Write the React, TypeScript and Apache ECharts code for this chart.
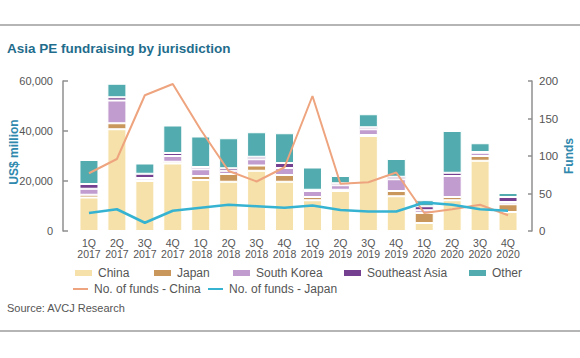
import React, { useEffect, useRef } from 'react';
import * as echarts from 'echarts';

const quarters = ['1Q', '2Q', '3Q', '4Q', '1Q', '2Q', '3Q', '4Q', '1Q', '2Q', '3Q', '4Q', '1Q', '2Q', '3Q', '4Q'];
const years = ['2017', '2017', '2017', '2017', '2018', '2018', '2018', '2018', '2019', '2019', '2019', '2019', '2020', '2020', '2020', '2020'];

const china = [13400, 40700, 20000, 27000, 20400, 19700, 24100, 19700, 12300, 16000, 38000, 13900, 3200, 12300, 28100, 7600];
const japan = [1100, 2400, 300, 700, 1600, 3100, 2100, 2700, 1300, 500, 400, 2100, 4000, 1300, 1900, 3100];
const southKorea = [2400, 9100, 900, 2300, 2700, 1300, 2500, 2800, 2400, 1800, 2300, 4700, 1100, 8400, 1300, 900];
const southeastAsia = [1900, 1300, 1700, 1200, 900, 1000, 1000, 2000, 500, 800, 800, 1000, 1600, 1300, 300, 2000];
const other = [9600, 5400, 4100, 11000, 12200, 12000, 9800, 11900, 8900, 2900, 5200, 7100, 2400, 16700, 3500, 1600];

const fundsChina = [77, 96, 181, 196, 135, 80, 66, 85, 180, 63, 65, 78, 24, 29, 35, 21];
const fundsJapan = [24, 29, 11, 27, 31, 35, 33, 31, 34, 28, 26, 26, 38, 35, 29, 27];

const FONT = '"Liberation Sans", Arial, sans-serif';
const AXIS = '#8f8f8f';
const TXT = '#555555';

const barDefs = [
  { name: 'China', data: china, color: '#f5e1a9' },
  { name: 'Japan', data: japan, color: '#c9975b' },
  { name: 'South Korea', data: southKorea, color: '#c19ccf' },
  { name: 'Southeast Asia', data: southeastAsia, color: '#74408f' },
  { name: 'Other', data: other, color: '#52abae' },
];
const lineDefs = [
  { name: 'No. of funds - China', data: fundsChina, color: '#eea47e', width: 2 },
  { name: 'No. of funds - Japan', data: fundsJapan, color: '#37b3d2', width: 2.5 },
];

const legendPos: Record<string, [number, number]> = {
  'China': [73, 267],
  'Japan': [152, 267],
  'South Korea': [231, 267],
  'Southeast Asia': [342, 267],
  'Other': [467, 267],
  'No. of funds - China': [73, 283],
  'No. of funds - Japan': [208, 283],
};

export default function App() {
  const ref = useRef<HTMLDivElement>(null);
  useEffect(() => {
    const chart = echarts.init(ref.current!, null, { renderer: 'svg' });
    const legends: any[] = [];
    barDefs.forEach((b) => {
      legends.push({
        data: [{ name: b.name, icon: 'rect' }],
        left: legendPos[b.name][0], top: legendPos[b.name][1],
        itemWidth: 19, itemHeight: 8, itemGap: 0, padding: 0,
        selectedMode: false,
        textStyle: { fontFamily: FONT, fontSize: 12, color: TXT },
      });
    });
    lineDefs.forEach((l) => {
      legends.push({
        data: [{ name: l.name, icon: 'rect' }],
        left: legendPos[l.name][0], top: legendPos[l.name][1],
        itemWidth: 15, itemHeight: 2, itemGap: 0, padding: 0,
        selectedMode: false,
        textStyle: { fontFamily: FONT, fontSize: 12, color: TXT, padding: [0, 0, 0, 1] },
      });
    });
    chart.setOption({
      animation: false,
      backgroundColor: '#ffffff',
      grid: { left: 75, right: 58, top: 81, bottom: 127 },
      legend: legends,
      xAxis: {
        type: 'category',
        data: quarters.map((q, i) => q + '\n' + years[i]),
        axisLine: { show: false },
        axisTick: { show: false },
        axisLabel: { interval: 0, margin: 6, lineHeight: 11, fontSize: 10.5, fontFamily: FONT, color: TXT },
      },
      yAxis: [
        {
          type: 'value', min: 0, max: 60000, interval: 20000, position: 'left', offset: 12,
          axisLine: { show: true, lineStyle: { color: AXIS, width: 1.5 } },
          axisTick: { show: true, inside: true, length: 5, lineStyle: { color: AXIS, width: 1.5 } },
          axisLabel: {
            margin: 10, fontSize: 11, fontFamily: FONT, color: TXT,
            formatter: (v: number) => v.toLocaleString('en-US'),
          },
          splitLine: { show: false },
        },
        {
          type: 'value', min: 0, max: 200, interval: 50, position: 'right', offset: 10,
          axisLine: { show: true, lineStyle: { color: AXIS, width: 1.5 } },
          axisTick: { show: true, inside: true, length: 4, lineStyle: { color: AXIS, width: 1.5 } },
          axisLabel: { margin: 7, fontSize: 11.5, fontFamily: FONT, color: TXT },
          splitLine: { show: false },
        },
      ],
      series: [
        ...barDefs.map((b) => ({
          name: b.name, type: 'bar', stack: 'total', data: b.data, barWidth: 19,
          itemStyle: { color: b.color, borderColor: '#ffffff', borderWidth: 1 },
        })),
        ...lineDefs.map((l) => ({
          name: l.name, type: 'line', yAxisIndex: 1, data: l.data, symbol: 'none',
          lineStyle: { color: l.color, width: l.width }, itemStyle: { color: l.color },
          z: 5,
        })),
      ],
      graphic: [
        { type: 'line', shape: { x1: 0, y1: 25, x2: 580, y2: 25 }, style: { stroke: '#b5b5b5', lineWidth: 2 } },
        { type: 'line', shape: { x1: 0, y1: 331, x2: 580, y2: 331 }, style: { stroke: '#b5b5b5', lineWidth: 2 } },
        {
          type: 'text', x: 7, y: 48,
          style: { text: 'Asia PE fundraising by jurisdiction', fill: '#1f6d8c', fontSize: 13.5, fontWeight: 'bold', fontFamily: FONT, verticalAlign: 'middle', align: 'left' },
        },
        {
          type: 'text', x: 7, y: 308,
          style: { text: 'Source: AVCJ Research', fill: TXT, fontSize: 11, fontFamily: FONT, verticalAlign: 'middle', align: 'left' },
        },
        {
          type: 'text', x: 14, y: 152, rotation: Math.PI / 2,
          style: { text: 'US$ million', fill: '#2f88ad', fontSize: 12, fontWeight: 'bold', fontFamily: FONT, verticalAlign: 'middle', align: 'center' },
        },
        {
          type: 'text', x: 569, y: 156, rotation: Math.PI / 2,
          style: { text: 'Funds', fill: '#2f88ad', fontSize: 12, fontWeight: 'bold', fontFamily: FONT, verticalAlign: 'middle', align: 'center' },
        },
      ],
    });
    return () => chart.dispose();
  }, []);
  return <div ref={ref} style={{ position: 'fixed', left: 0, top: 0, width: 580, height: 358, background: '#fff' }} />;
}
